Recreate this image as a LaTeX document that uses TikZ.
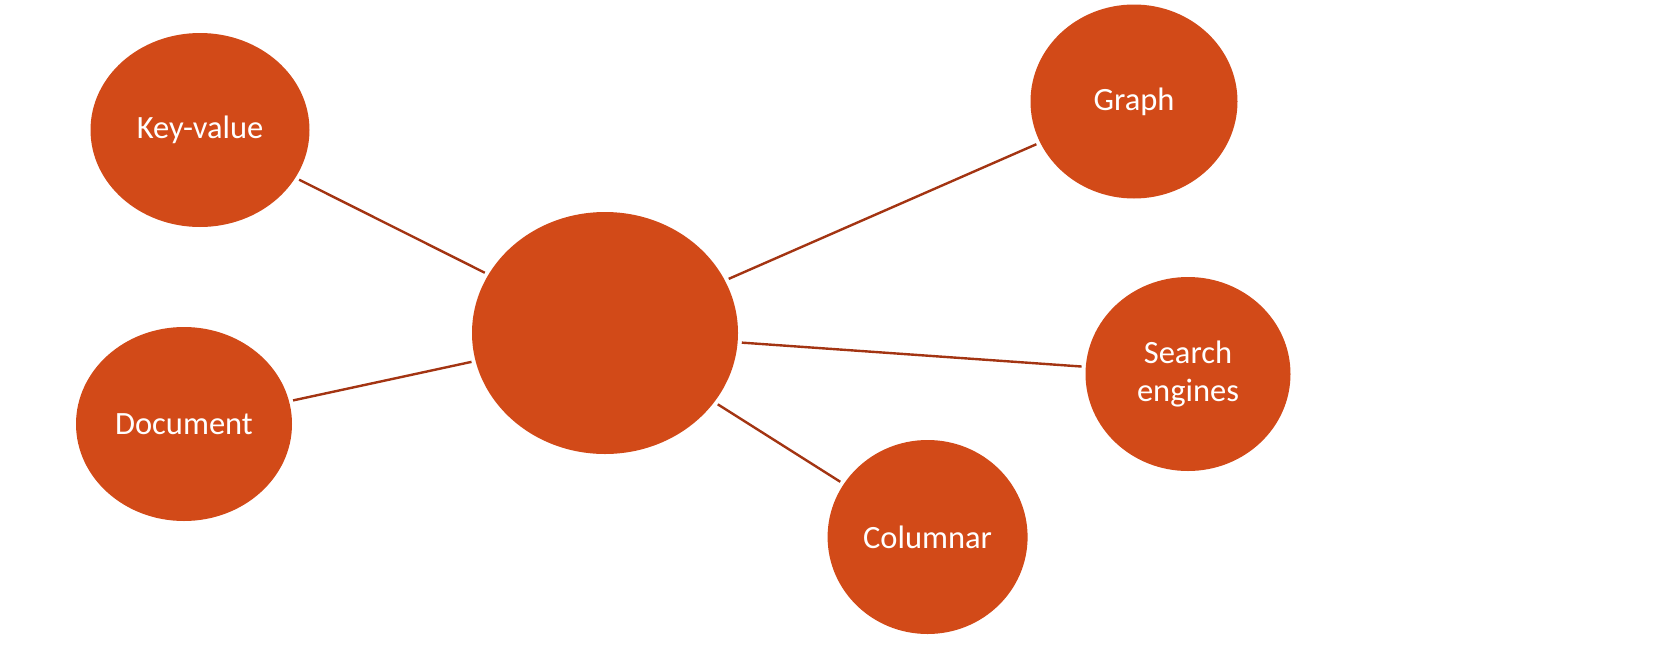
\documentclass[tikz,border=0pt]{standalone}
\usepackage{fontspec}
\setmainfont{Carlito}
\usetikzlibrary{shapes.geometric}
\definecolor{bubble}{HTML}{D24A18}
\definecolor{link}{HTML}{A33412}
\tikzset{
  bub/.style={ellipse, fill=bubble, draw=none, inner sep=0pt, text=white,
    font=\fontsize{32.5}{38}\selectfont, align=center},
  conn/.style={draw=link, line width=2.4pt, shorten >=4pt, shorten <=4pt}
}
\begin{document}
\begin{tikzpicture}[x=1pt,y=-1pt]
\useasboundingbox (0,0) rectangle (1666,662);
\node[bub, minimum width=219pt, minimum height=194pt] (kv) at (200,130) {Key-value};
\node[bub, minimum width=216pt, minimum height=194pt] (doc) at (184,424) {Document};
\node[bub, minimum width=266pt, minimum height=242pt] (c) at (605,333) {};
\node[bub, minimum width=207pt, minimum height=194pt] (graph) at (1134,101.5) {Graph};
\node[bub, minimum width=205pt, minimum height=194pt] (search) at (1188,374) {Search\\engines};
\node[bub, minimum width=200pt, minimum height=194pt] (col) at (927.6,537) {Columnar};
\draw[conn] (kv) -- (c);
\draw[conn] (doc) -- (c);
\draw[conn] (c) -- (graph);
\draw[conn] (c) -- (search);
\draw[conn] (c) -- (col);
\end{tikzpicture}
\end{document}
